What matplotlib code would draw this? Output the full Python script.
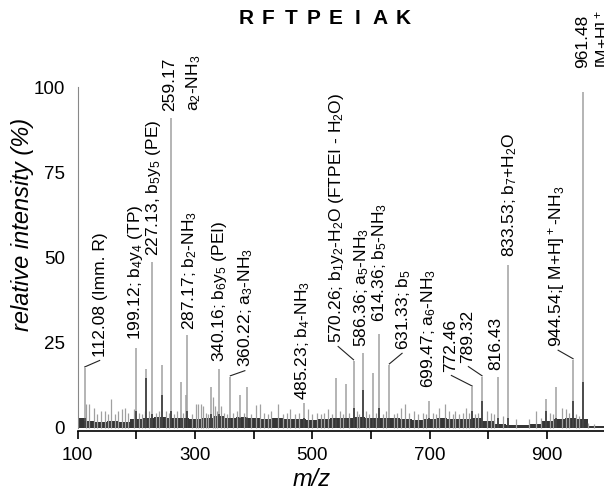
import matplotlib
matplotlib.use("Agg")
import matplotlib.pyplot as plt

plt.rcParams['font.family'] = ['Liberation Sans', 'DejaVu Sans']
plt.rcParams['mathtext.default'] = 'regular'

# main peaks: m/z, relative intensity (%), height of the dark core (%)
peak_mz = [112.08, 199.12, 216.6, 227.13, 244.0, 259.17, 276.0, 284.0, 287.17,
           328.0, 340.16, 360.22, 377.0, 388.0, 485.23, 541.0, 557.0, 570.26,
           586.36, 603.7, 614.36, 631.33, 699.47, 772.46, 789.32, 816.43,
           833.53, 899.0, 916.0, 944.54, 961.48]
peak_int = [17.6, 23.5, 17.4, 48.7, 18.5, 91.0, 13.6, 9.7, 27.3,
            12.0, 17.3, 15.0, 9.7, 12.0, 7.3, 14.6, 13.0, 19.7,
            22.0, 16.0, 27.5, 18.5, 8.0, 12.0, 15.0, 15.0,
            47.8, 8.5, 12.0, 20.0, 98.5]
peak_core = [3.0, 5.0, 14.6, 4.0, 9.7, 5.0, 3.0, 3.0, 5.0,
             4.0, 4.0, 3.0, 3.0, 3.0, 3.0, 3.0, 3.0, 6.0,
             11.0, 3.0, 6.0, 3.0, 3.0, 5.0, 8.0, 3.0,
             3.0, 5.0, 3.0, 8.0, 13.6]

# small peaks above the noise floor
minor_mz = [115, 120, 127, 133, 139, 146, 151, 156, 163, 168, 175, 180, 186, 196,
            205, 210, 214, 222, 233, 238, 251, 255, 265, 269, 280, 295, 302, 305,
            310, 313, 318, 323, 331, 334, 338, 345, 350, 355, 365, 371, 383, 395,
            404, 410, 418, 425, 430, 441, 450, 456, 462, 470, 478, 493, 500, 508,
            515, 520, 527, 533, 547, 552, 562, 576, 580, 592, 597, 608, 620, 626,
            640, 645, 651, 658, 665, 673, 680, 688, 693, 705, 710, 716, 726, 733,
            740, 744, 750, 756, 762, 767, 778, 783, 797, 805, 810, 825, 848, 870,
            882, 890, 905, 910, 925, 933, 938, 950, 955, 970, 980]
minor_int = [7.0, 7.0, 6.0, 4.0, 5.0, 5.0, 4.0, 8.5, 4.0, 5.0, 5.5, 6.0, 4.5, 5.5,
             4.5, 4.0, 5.0, 5.0, 4.5, 5.0, 5.0, 4.5, 4.0, 5.0, 4.5, 4.0, 7.0, 7.0,
             7.0, 6.5, 4.5, 4.0, 9.0, 6.5, 5.0, 6.5, 4.5, 4.0, 4.5, 5.0, 4.5, 4.0,
             6.6, 7.0, 4.5, 4.0, 5.0, 7.0, 4.0, 4.5, 5.5, 4.0, 4.5, 5.5, 4.0, 4.5,
             4.0, 4.5, 5.5, 4.0, 5.0, 4.0, 4.5, 5.0, 4.0, 5.0, 4.0, 4.5, 4.0, 5.0,
             4.0, 4.5, 6.0, 7.0, 4.5, 5.0, 4.0, 4.5, 4.0, 4.5, 4.0, 6.0, 7.0, 5.0,
             4.0, 5.0, 4.0, 4.5, 6.0, 4.5, 4.0, 4.5, 5.0, 4.5, 4.0, 3.5, 2.5, 2.5,
             5.0, 3.0, 4.5, 4.0, 6.0, 5.5, 4.5, 4.0, 3.5, 1.5, 1.2]

# noise floor envelope
floor_mz = list(range(100, 1001, 20))
floor_int = [2.8, 2.0, 1.8, 2.0, 1.8, 2.5, 3.0, 3.2, 2.8, 3.0, 2.5, 3.0, 3.5, 3.0,
             3.2, 2.8, 2.5, 2.8, 2.5, 2.5, 2.2, 2.5, 2.8, 3.0, 3.2, 3.0, 2.8, 2.8,
             2.5, 2.2, 2.5, 2.8, 2.5, 2.5, 2.8, 2.0, 1.2, 1.0, 1.0, 1.2, 2.0, 2.5,
             2.8, 2.5, 0.6, 0.5]

title_letters = ["R", "F", "T", "P", "E", "I", "A", "K"]

# annotations: text, peak m/z, label anchor (m/z, %), leader line or not
labels = [
    ("112.08 (Imm. R)", 112.08, 139.5, 20.8, True),
    ("199.12; b$_4$y$_4$ (TP)", 199.12, 198.5, 25.8, False),
    ("227.13, b$_5$y$_5$ (PE)", 227.13, 229.0, 50.3, False),
    ("259.17", 259.17, 257.5, 93.0, False),
    ("a$_2$-NH$_3$", 259.17, 298.0, 93.0, False),
    ("287.17; b$_2$-NH$_3$", 287.17, 291.0, 28.7, False),
    ("340.16; b$_6$y$_5$ (PEI)", 340.16, 342.5, 19.4, False),
    ("360.22; a$_3$-NH$_3$", 360.22, 387.0, 17.8, True),
    ("485.23; b$_4$-NH$_3$", 485.23, 484.0, 8.2, False),
    ("570.26; b$_1$y$_2$-H$_2$O (FTPEI - H$_2$O)", 570.26, 542.0, 24.9, True),
    ("586.36; a$_5$-NH$_3$", 586.36, 584.0, 23.8, False),
    ("614.36; b$_5$-NH$_3$", 614.36, 615.0, 31.0, False),
    ("631.33; b$_5$", 631.33, 655.0, 22.9, True),
    ("699.47; a$_6$-NH$_3$", 699.47, 699.0, 11.7, False),
    ("772.46", 772.46, 735.0, 16.4, True),
    ("789.32", 789.32, 764.0, 19.0, True),
    ("816.43", 816.43, 813.0, 17.0, False),
    ("833.53; b$_7$+H$_2$O", 833.53, 837.0, 50.0, False),
    ("944.54;[ M+H]$^+$-NH$_3$", 944.54, 917.0, 23.8, True),
    ("961.48", 961.48, 960.5, 105.6, False),
    ("[M+H]$^+$", 961.48, 996.0, 105.6, False),
]

fig = plt.figure(figsize=(6.04, 4.93), dpi=100)
ax = fig.add_axes([0.1286, 0.1264, 0.8714, 0.6971])

ax.fill_between(floor_mz, 0, floor_int, step="mid", color="#353535", lw=0)
ax.vlines(minor_mz, 0, minor_int, color="#a0a0a0", lw=0.9)
ax.vlines(peak_mz, 0, peak_int, color="#a0a0a0", lw=1.1)
ax.vlines(peak_mz, 0, peak_core, color="#2e2e2e", lw=1.1)

for text, mz, tx, ty, leader in labels:
    if leader:
        top = peak_int[peak_mz.index(mz)]
        ax.plot([mz, tx + (2 if tx < mz else -2)], [top + 0.3, ty - 1.0],
                color="#222222", lw=0.8, clip_on=False)
    ax.text(tx, ty, text, rotation=90, ha="center", va="bottom",
            fontsize=12.5, clip_on=False)

ax.set_xlim(100, 997.2)
ax.set_ylim(-0.8, 100)
ax.set_xticks([100, 300, 500, 700, 900])
ax.set_xticks([200, 400, 600, 800], minor=True)
ax.set_yticks([0, 25, 50, 75, 100])
ax.tick_params(axis="x", which="both", direction="out", length=6, width=1.2,
               labelsize=13.5, pad=6)
ax.tick_params(axis="y", length=0, labelsize=13.5, pad=9)

for s in ["top", "right"]:
    ax.spines[s].set_visible(False)
ax.spines["left"].set_bounds(0, 100)
ax.spines["left"].set_color("#888888")
ax.spines["left"].set_linestyle((0, (1, 1)))
ax.spines["left"].set_linewidth(0.8)
ax.spines["bottom"].set_linewidth(1.2)

fig.text(23 / 604, 1 - 224 / 493, "relative intensity (%)", rotation=90,
         ha="center", va="center", fontsize=17, style="italic")
fig.text(312 / 604, 1 - 480 / 493, "m/z", ha="center", va="center",
         fontsize=17, style="italic")
for i, letter in enumerate(title_letters):
    fig.text((246 + 22.4 * i) / 604, 1 - 18 / 493, letter, ha="center",
             va="center", fontsize=15, fontweight="bold")

fig.savefig("out.png", dpi=100)
